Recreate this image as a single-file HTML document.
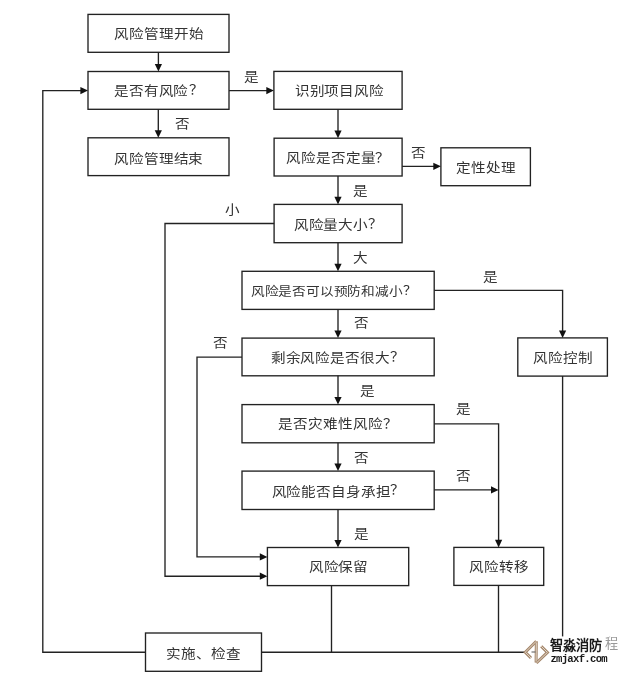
<!DOCTYPE html>
<html lang="zh-CN"><head><meta charset="utf-8"><style>
html,body{margin:0;padding:0;background:#fff;}
body{width:640px;height:673px;overflow:hidden;position:relative;font-family:"Liberation Serif",serif;}
svg{position:absolute;left:0;top:0;will-change:transform;}
text{font-family:"Liberation Serif",serif;}
</style></head><body>
<svg width="640" height="673" viewBox="0 0 640 673">
<rect x="88" y="14.4" width="141.0" height="37.9" fill="#fff" stroke="#222" stroke-width="1.35"/>
<rect x="88" y="71.5" width="141.0" height="37.8" fill="#fff" stroke="#222" stroke-width="1.35"/>
<rect x="88" y="137.8" width="141.0" height="37.8" fill="#fff" stroke="#222" stroke-width="1.35"/>
<rect x="273.9" y="71.4" width="128.2" height="37.9" fill="#fff" stroke="#222" stroke-width="1.35"/>
<rect x="274.1" y="138.2" width="128.0" height="37.8" fill="#fff" stroke="#222" stroke-width="1.35"/>
<rect x="440.9" y="147.8" width="89.5" height="37.9" fill="#fff" stroke="#222" stroke-width="1.35"/>
<rect x="274.1" y="204.4" width="128.0" height="38.3" fill="#fff" stroke="#222" stroke-width="1.35"/>
<rect x="242" y="271.3" width="192.2" height="38.1" fill="#fff" stroke="#222" stroke-width="1.35"/>
<rect x="517.8" y="337.9" width="89.6" height="38.2" fill="#fff" stroke="#222" stroke-width="1.35"/>
<rect x="242" y="338.1" width="192.2" height="37.7" fill="#fff" stroke="#222" stroke-width="1.35"/>
<rect x="242" y="404.6" width="192.2" height="38.2" fill="#fff" stroke="#222" stroke-width="1.35"/>
<rect x="242" y="471.1" width="192.2" height="38.4" fill="#fff" stroke="#222" stroke-width="1.35"/>
<rect x="267.4" y="547.5" width="141.3" height="38.1" fill="#fff" stroke="#222" stroke-width="1.35"/>
<rect x="453.9" y="547.4" width="89.8" height="38.0" fill="#fff" stroke="#222" stroke-width="1.35"/>
<rect x="145.5" y="633" width="116.0" height="38.3" fill="#fff" stroke="#222" stroke-width="1.35"/>
<path d="M158.4,52.3 L158.4,64.9" fill="none" stroke="#222" stroke-width="1.35"/>
<polygon points="158.4,71.5 154.8,63.9 162.0,63.9" fill="#111"/>
<path d="M229,90.6 L267.29999999999995,90.6" fill="none" stroke="#222" stroke-width="1.35"/>
<polygon points="273.9,90.6 266.3,94.2 266.3,87.0" fill="#111"/>
<path d="M158.3,109.3 L158.3,131.20000000000002" fill="none" stroke="#222" stroke-width="1.35"/>
<polygon points="158.3,137.8 154.7,130.2 161.9,130.2" fill="#111"/>
<path d="M338,109.3 L338.0,131.6" fill="none" stroke="#222" stroke-width="1.35"/>
<polygon points="338.0,138.2 334.4,130.6 341.6,130.6" fill="#111"/>
<path d="M402.1,166.3 L434.29999999999995,166.3" fill="none" stroke="#222" stroke-width="1.35"/>
<polygon points="440.9,166.3 433.3,169.9 433.3,162.7" fill="#111"/>
<path d="M338,176 L338.0,197.8" fill="none" stroke="#222" stroke-width="1.35"/>
<polygon points="338.0,204.4 334.4,196.8 341.6,196.8" fill="#111"/>
<path d="M274.1,223.5 L165,223.5 L165,576.2 L260.79999999999995,576.2" fill="none" stroke="#222" stroke-width="1.35"/>
<polygon points="267.4,576.2 259.8,579.8 259.8,572.6" fill="#111"/>
<path d="M338,242.7 L338.0,264.7" fill="none" stroke="#222" stroke-width="1.35"/>
<polygon points="338.0,271.3 334.4,263.7 341.6,263.7" fill="#111"/>
<path d="M434.2,290.3 L562.6,290.3 L562.6,331.4" fill="none" stroke="#222" stroke-width="1.35"/>
<polygon points="562.6,338.0 559.0,330.4 566.2,330.4" fill="#111"/>
<path d="M338,309.4 L338.0,331.5" fill="none" stroke="#222" stroke-width="1.35"/>
<polygon points="338.0,338.1 334.4,330.5 341.6,330.5" fill="#111"/>
<path d="M242,357.1 L197,357.1 L197,556.9 L260.79999999999995,556.9" fill="none" stroke="#222" stroke-width="1.35"/>
<polygon points="267.4,556.9 259.8,560.5 259.8,553.3" fill="#111"/>
<path d="M338,375.8 L338.0,398.0" fill="none" stroke="#222" stroke-width="1.35"/>
<polygon points="338.0,404.6 334.4,397.0 341.6,397.0" fill="#111"/>
<path d="M434.2,423.8 L498.6,423.8 L498.6,540.8" fill="none" stroke="#222" stroke-width="1.35"/>
<polygon points="498.6,547.4 495.0,539.8 502.2,539.8" fill="#111"/>
<path d="M338,442.8 L338.0,464.5" fill="none" stroke="#222" stroke-width="1.35"/>
<polygon points="338.0,471.1 334.4,463.5 341.6,463.5" fill="#111"/>
<path d="M434.2,489.9 L492.0,489.9" fill="none" stroke="#222" stroke-width="1.35"/>
<polygon points="498.6,489.9 491.0,493.5 491.0,486.3" fill="#111"/>
<path d="M338,509.5 L338.0,540.9" fill="none" stroke="#222" stroke-width="1.35"/>
<polygon points="338.0,547.5 334.4,539.9 341.6,539.9" fill="#111"/>
<path d="M562.6,376.1 L562.6,636.6" fill="none" stroke="#222" stroke-width="1.35"/>
<path d="M331.5,585.6 L331.5,652.2" fill="none" stroke="#222" stroke-width="1.35"/>
<path d="M498.5,585.4 L498.5,652.2" fill="none" stroke="#222" stroke-width="1.35"/>
<path d="M261.5,652.2 L525,652.2" fill="none" stroke="#222" stroke-width="1.35"/>
<path d="M145.5,652.2 L42.8,652.2 L42.8,90.6 L81.4,90.6" fill="none" stroke="#222" stroke-width="1.35"/>
<polygon points="88.0,90.6 80.4,94.2 80.4,87.0" fill="#111"/>
<text transform="translate(158.96,33.75) scale(1,0.88)" x="0" y="0" font-size="14.6" fill="#333" text-anchor="middle" dominant-baseline="central">风险管理开始</text>
<text transform="translate(151.20,90.95) scale(1,0.88)" x="0" y="0" font-size="14.6" fill="#333" text-anchor="middle" dominant-baseline="central">是否有风险</text>
<text transform="translate(196.05,90.00) scale(1,0.88)" x="0" y="0" font-size="14.6" fill="#333" text-anchor="middle" dominant-baseline="central">？</text>
<text transform="translate(158.75,158.63) scale(1,0.88)" x="0" y="0" font-size="14.6" fill="#333" text-anchor="middle" dominant-baseline="central">风险管理结束</text>
<text transform="translate(339.30,91.02) scale(1,0.88)" x="0" y="0" font-size="14.6" fill="#333" text-anchor="middle" dominant-baseline="central">识别项目风险</text>
<text transform="translate(330.79,157.35) scale(1,0.88)" x="0" y="0" font-size="14.6" fill="#333" text-anchor="middle" dominant-baseline="central">风险是否定量</text>
<text transform="translate(382.69,157.45) scale(1,0.88)" x="0" y="0" font-size="14.6" fill="#333" text-anchor="middle" dominant-baseline="central">？</text>
<text transform="translate(486.15,167.35) scale(1,0.88)" x="0" y="0" font-size="14.6" fill="#333" text-anchor="middle" dominant-baseline="central">定性处理</text>
<text transform="translate(330.81,224.40) scale(1,0.88)" x="0" y="0" font-size="14.6" fill="#333" text-anchor="middle" dominant-baseline="central">风险量大小</text>
<text transform="translate(375.25,223.35) scale(1,0.88)" x="0" y="0" font-size="14.6" fill="#333" text-anchor="middle" dominant-baseline="central">？</text>
<text transform="translate(326.65,291.80) scale(1,0.88)" x="0" y="0" font-size="13.7" fill="#333" text-anchor="middle" dominant-baseline="central">风险是否可以预防和减小</text>
<text transform="translate(410.29,291.45) scale(1,0.88)" x="0" y="0" font-size="13.7" fill="#333" text-anchor="middle" dominant-baseline="central">？</text>
<text transform="translate(562.85,358.05) scale(1,0.88)" x="0" y="0" font-size="14.6" fill="#333" text-anchor="middle" dominant-baseline="central">风险控制</text>
<text transform="translate(330.19,357.75) scale(1,0.88)" x="0" y="0" font-size="14.6" fill="#333" text-anchor="middle" dominant-baseline="central">剩余风险是否很大</text>
<text transform="translate(397.21,357.25) scale(1,0.88)" x="0" y="0" font-size="14.6" fill="#333" text-anchor="middle" dominant-baseline="central">？</text>
<text transform="translate(330.35,423.85) scale(1,0.88)" x="0" y="0" font-size="14.6" fill="#333" text-anchor="middle" dominant-baseline="central">是否灾难性风险</text>
<text transform="translate(390.25,423.80) scale(1,0.88)" x="0" y="0" font-size="14.6" fill="#333" text-anchor="middle" dominant-baseline="central">？</text>
<text transform="translate(331.04,491.30) scale(1,0.88)" x="0" y="0" font-size="14.6" fill="#333" text-anchor="middle" dominant-baseline="central">风险能否自身承担</text>
<text transform="translate(397.75,489.70) scale(1,0.88)" x="0" y="0" font-size="14.6" fill="#333" text-anchor="middle" dominant-baseline="central">？</text>
<text transform="translate(338.46,567.10) scale(1,0.88)" x="0" y="0" font-size="14.6" fill="#333" text-anchor="middle" dominant-baseline="central">风险保留</text>
<text transform="translate(498.90,566.85) scale(1,0.88)" x="0" y="0" font-size="14.6" fill="#333" text-anchor="middle" dominant-baseline="central">风险转移</text>
<text transform="translate(203.35,653.30) scale(1,0.88)" x="0" y="0" font-size="14.6" fill="#333" text-anchor="middle" dominant-baseline="central">实施、检查</text>
<text transform="translate(251.40,76.65) scale(1,0.88)" x="0" y="0" font-size="14.6" fill="#333" text-anchor="middle" dominant-baseline="central">是</text>
<text transform="translate(182.15,124.15) scale(1,0.88)" x="0" y="0" font-size="14.6" fill="#333" text-anchor="middle" dominant-baseline="central">否</text>
<text transform="translate(418.40,152.65) scale(1,0.88)" x="0" y="0" font-size="14.6" fill="#333" text-anchor="middle" dominant-baseline="central">否</text>
<text transform="translate(360.40,190.80) scale(1,0.88)" x="0" y="0" font-size="14.6" fill="#333" text-anchor="middle" dominant-baseline="central">是</text>
<text transform="translate(232.40,209.90) scale(1,0.88)" x="0" y="0" font-size="14.6" fill="#333" text-anchor="middle" dominant-baseline="central">小</text>
<text transform="translate(360.35,257.50) scale(1,0.88)" x="0" y="0" font-size="14.6" fill="#333" text-anchor="middle" dominant-baseline="central">大</text>
<text transform="translate(490.04,276.65) scale(1,0.88)" x="0" y="0" font-size="14.6" fill="#333" text-anchor="middle" dominant-baseline="central">是</text>
<text transform="translate(361.80,323.19) scale(1,0.88)" x="0" y="0" font-size="14.6" fill="#333" text-anchor="middle" dominant-baseline="central">否</text>
<text transform="translate(220.10,343.20) scale(1,0.88)" x="0" y="0" font-size="14.6" fill="#333" text-anchor="middle" dominant-baseline="central">否</text>
<text transform="translate(367.85,390.45) scale(1,0.88)" x="0" y="0" font-size="14.6" fill="#333" text-anchor="middle" dominant-baseline="central">是</text>
<text transform="translate(463.40,409.20) scale(1,0.88)" x="0" y="0" font-size="14.6" fill="#333" text-anchor="middle" dominant-baseline="central">是</text>
<text transform="translate(361.80,457.65) scale(1,0.88)" x="0" y="0" font-size="14.6" fill="#333" text-anchor="middle" dominant-baseline="central">否</text>
<text transform="translate(463.40,475.45) scale(1,0.88)" x="0" y="0" font-size="14.6" fill="#333" text-anchor="middle" dominant-baseline="central">否</text>
<text transform="translate(361.35,533.80) scale(1,0.88)" x="0" y="0" font-size="14.6" fill="#333" text-anchor="middle" dominant-baseline="central">是</text>
<rect x="527" y="636.8" width="95" height="30" fill="#fff"/>
<g fill="none" stroke-linejoin="miter" stroke-linecap="butt">
<g stroke="#a4866a" stroke-width="3">
<path d="M536.3,641.2 L525.3,652.2 L531,658"/>
<path d="M541.2,646.2 L547.4,652.4 L536.4,663"/>
<path d="M536.3,641.2 L536.1,662.6"/>
</g>
<g stroke="#e9dfd3" stroke-width="0.9">
<path d="M536.3,641.2 L525.3,652.2 L531,658"/>
<path d="M541.2,646.2 L547.4,652.4 L536.4,663"/>
<path d="M536.3,642.5 L536.1,661.5"/>
</g>
<path d="M531.5,652 L535.5,652" stroke="#555" stroke-width="1"/>
</g>
<text x="550" y="650.4" font-size="13.2" font-weight="bold" fill="#1a1a1a" style="font-family:'Liberation Sans',sans-serif">智淼消防</text>
<text x="604.5" y="647.7" font-size="13.2" fill="#9a9a9a" style="font-family:'Liberation Sans',sans-serif">程</text>
<text x="550.4" y="661.6" font-size="10.6" font-weight="bold" letter-spacing="-0.7" fill="#1a1a1a" style="font-family:'Liberation Mono',monospace">zmjaxf.com</text>
</svg></body></html>
